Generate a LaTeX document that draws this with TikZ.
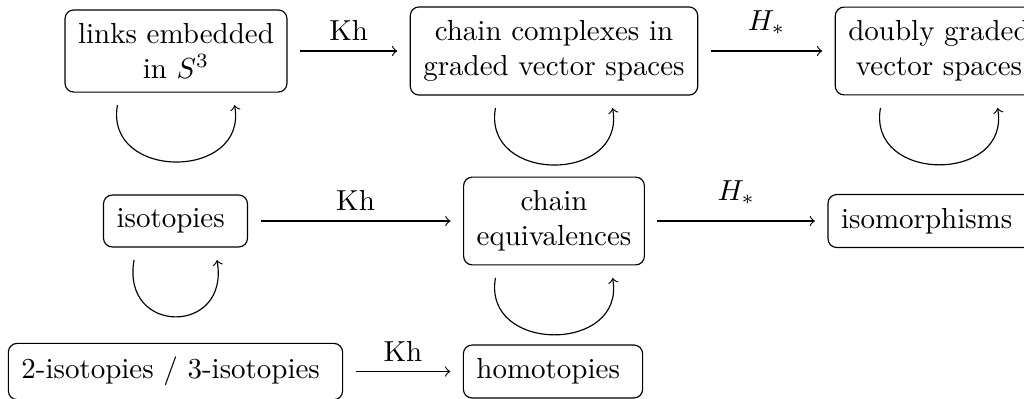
\documentclass[tikz,border=0pt]{standalone}
\usetikzlibrary{positioning}

\begin{document}
\begin{tikzpicture}[x=0.345pt,y=0.345pt,yscale=-1,xscale=1,
  box/.style={draw,rounded corners=3pt,align=center,inner xsep=4.5pt,inner ysep=4.7pt,outer sep=4.5pt},
  map/.style={->},
  selfloop/.style={->,out=100,in=80,distance=26.5pt}]

\useasboundingbox (0,0) rectangle (1024,398);

% Text Node
\node [box] (links) at (176,51) {links embedded\\ in $S^3$};
% Text Node
\node [box] (complexes) at (554,51) {chain complexes in\\ graded vector spaces};
% Text Node
\node [box] (graded) at (939,51) {doubly graded\\ vector spaces};
% Text Node
\node [box] (isotopies) at (175.5,221) {isotopies\ };
% Text Node
\node [box] (equivalences) at (554,221) {chain\\ equivalences};
% Text Node
\node [box] (isomorphisms) at (931.5,221) {isomorphisms\ };
% Text Node
\node [box] (twoisotopies) at (175.5,371.5) {2-isotopies / 3-isotopies\ };
% Text Node
\node [box] (homotopies) at (553,371.5) {homotopies\ };

%Straight Lines
\draw [map] (links) -- node [above] {Kh} (complexes);
\draw [map] (complexes) -- node [above,yshift=2pt] {$H_*$} (graded);
%Straight Lines
\draw [map] (isotopies) -- node [above] {Kh} (equivalences);
\draw [map] (equivalences) -- node [above,yshift=2pt] {$H_*$} (isomorphisms);
%Straight Lines
\draw [map] (twoisotopies) -- node [above] {Kh} (homotopies);

%Curve Lines
\coordinate (linksL) at ([xshift=-20.2pt]links.south);
\coordinate (linksR) at ([xshift=20.2pt]links.south);
\draw [selfloop] (linksL) to (linksR);
\coordinate (complexesL) at ([xshift=-20.2pt]complexes.south);
\coordinate (complexesR) at ([xshift=20.2pt]complexes.south);
\draw [selfloop] (complexesL) to (complexesR);
\coordinate (gradedL) at ([xshift=-20.2pt]graded.south);
\coordinate (gradedR) at ([xshift=20.2pt]graded.south);
\draw [selfloop] (gradedL) to (gradedR);
\coordinate (isotopiesL) at ([xshift=-14.3pt]isotopies.south);
\coordinate (isotopiesR) at ([xshift=14.3pt]isotopies.south);
\draw [selfloop] (isotopiesL) to (isotopiesR);
\coordinate (equivalencesL) at ([xshift=-20.2pt]equivalences.south);
\coordinate (equivalencesR) at ([xshift=20.2pt]equivalences.south);
\draw [selfloop] (equivalencesL) to (equivalencesR);

\end{tikzpicture}
\end{document}
